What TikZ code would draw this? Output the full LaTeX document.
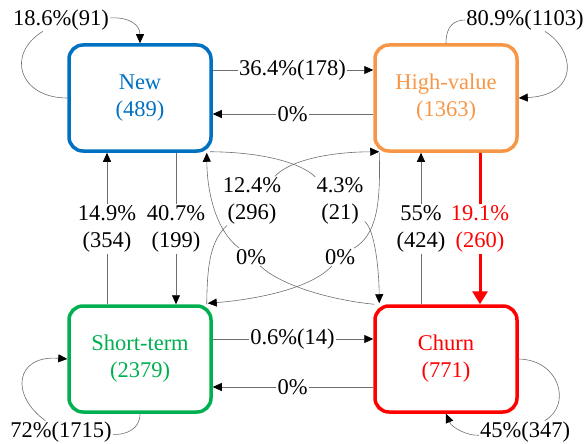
\documentclass[tikz,border=0pt]{standalone}
\usepackage{fontspec}
\setmainfont{Liberation Serif}
\usetikzlibrary{arrows.meta}
\definecolor{cnew}{RGB}{0,112,192}
\definecolor{chigh}{RGB}{247,150,70}
\definecolor{cshort}{RGB}{0,176,80}
\definecolor{cchurn}{RGB}{255,0,0}
\definecolor{linkgray}{RGB}{110,110,110}
\begin{document}
\begin{tikzpicture}[x=1pt,y=-1pt,
  state/.style={draw, line width=3.5pt, rounded corners=14pt,
    minimum width=142pt, minimum height=106pt, align=center,
    font=\fontsize{22.5}{27}\selectfont},
  lbl/.style={inner sep=1pt, align=center, font=\fontsize{22.5}{27}\selectfont},
  link/.style={draw=linkgray, line width=0.6pt},
  arr/.style={-{Triangle[length=9pt,width=8pt,color=black]}},
  redline/.style={draw=cchurn, line width=3pt},
  redarr/.style={-{Triangle[length=13pt,width=15pt]}}]
\useasboundingbox (0,0) rectangle (586,444);

% states
\node[state, draw=cnew, text=cnew]       (New)   at (140,98)  {New\\(489)};
\node[state, draw=chigh, text=chigh]     (High)  at (446,98)  {High-value\\(1363)};
\node[state, draw=cshort, text=cshort]   (Short) at (140,359) {Short-term\\(2379)};
\node[state, draw=cchurn, text=cchurn]   (Churn) at (446,359) {Churn\\(771)};

% transition labels
\node[lbl] (lNew)   at (61,20)    {18.6\%(91)};
\node[lbl] (lHigh)  at (525,20)   {80.9\%(1103)};
\node[lbl] (lShort) at (61,432)   {72\%(1715)};
\node[lbl] (lChurn) at (525,432)  {45\%(347)};
\node[lbl] (lNH)    at (292.5,70) {36.4\%(178)};
\node[lbl] (lHN)    at (292.5,114) {0\%};
\node[lbl] (lSC)    at (292.5,339) {0.6\%(14)};
\node[lbl] (lCS)    at (292.5,387) {0\%};
\node[lbl] (lSN)    at (107,229)  {14.9\%\\(354)};
\node[lbl] (lNS)    at (176,229)  {40.7\%\\(199)};
\node[lbl] (lCH)    at (421,229)  {55\%\\(424)};
\node[lbl, text=cchurn] (lHC) at (480,229) {19.1\%\\(260)};
\node[lbl] (lNC)    at (340,201)  {4.3\%\\(21)};
\node[lbl] (lSH)    at (252,201)  {12.4\%\\(296)};
\node[lbl] (lCN)    at (251,257)  {0\%};
\node[lbl] (lHS)    at (340,257)  {0\%};

% self loops
\draw[link] (New.west) .. controls (20,98) and (5,55) .. (lNew);
\draw[link,arr] (lNew) .. controls (130,17) and (140,25) .. (New.north);
\draw[link] (High.north) .. controls (446,25) and (455,20) .. (lHigh);
\draw[link,arr] ([xshift=20pt]lHigh.south) .. controls (575,50) and (580,95) .. (High.east);
\draw[link] (Short.south) .. controls (140,430) and (125,435) .. (lShort);
\draw[link,arr] (lShort) .. controls (10,395) and (15,355) .. (Short.west);
\draw[link] (Churn.east) .. controls (560,360) and (572,405) .. (lChurn);
\draw[link,arr] (lChurn) .. controls (468,436) and (452,428) .. (Churn.south);

% horizontal transitions
\draw[link] (lNH) -- (lNH -| New.east);
\draw[link,arr] (lNH) -- (lNH -| High.west);
\draw[link] (lHN) -- (lHN -| High.west);
\draw[link,arr] (lHN) -- (lHN -| New.east);
\draw[link] (lSC) -- (lSC -| Short.east);
\draw[link,arr] (lSC) -- (lSC -| Churn.west);
\draw[link] (lCS) -- (lCS -| Churn.west);
\draw[link,arr] (lCS) -- (lCS -| Short.east);

% vertical transitions
\draw[link] (lSN) -- (lSN |- Short.north);
\draw[link,arr] (lSN) -- (lSN |- New.south);
\draw[link] (lNS) -- (lNS |- New.south);
\draw[link,arr] (lNS) -- (lNS |- Short.north);
\draw[link] (lCH) -- (lCH |- Churn.north);
\draw[link,arr] (lCH) -- (lCH |- High.south);
\draw[redline] (lHC) -- (lHC |- High.south);
\draw[redline,redarr] (lHC) -- (lHC |- Churn.north);

% diagonal transitions
\draw[link] ([xshift=-3pt,yshift=1pt]New.south east) .. controls (260,152) and (300,162) .. (lNC);
\draw[link,arr] (lNC) .. controls (375,230) and (379,270) .. ([xshift=6pt,yshift=1pt]Churn.north west);
\draw[link] ([xshift=-6pt]Short.north east) .. controls (207,260) and (212,240) .. (lSH);
\draw[link,arr] (lSH) .. controls (290,160) and (330,152) .. ([xshift=6pt,yshift=1pt]High.south west);
\draw[link] ([xshift=1pt]Churn.north west) .. controls (330,300) and (280,285) .. (lCN);
\draw[link,arr] (lCN) .. controls (215,230) and (207,190) .. ([xshift=-6pt]New.south east);
\draw[link] ([xshift=6pt]High.south west) .. controls (381,210) and (375,235) .. (lHS);
\draw[link,arr] (lHS) .. controls (310,290) and (250,300) .. ([xshift=-5pt,yshift=1pt]Short.north east);
\end{tikzpicture}
\end{document}
